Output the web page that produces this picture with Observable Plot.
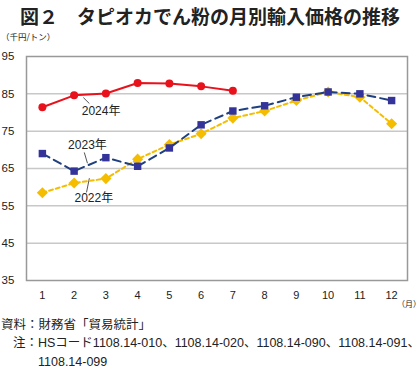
<!DOCTYPE html>
<html><head><meta charset="utf-8">
<script src="https://cdn.jsdelivr.net/npm/d3@7"></script>
<script src="https://cdn.jsdelivr.net/npm/@observablehq/plot@0.6"></script>
<style>
body{margin:0;background:#fff;width:420px;height:369px;overflow:hidden;font-family:"Noto Sans CJK JP",sans-serif;color:#222}
#wrap{position:relative;width:420px;height:369px}
.abs{position:absolute;white-space:nowrap}
#title{left:20px;top:4px;font-size:19px;font-weight:bold;line-height:24px}
#unit{left:1px;top:31px;font-size:8.5px;line-height:11px}
#month{left:397px;top:298px;font-size:8px;line-height:11px}
.foot{font-size:12.5px;line-height:16px;font-family:"Liberation Sans","Noto Sans CJK JP",sans-serif}
#chart{position:absolute;left:0;top:26px}
</style></head><body>
<div id="wrap">
<div class="abs" id="title">図２　タピオカでん粉の月別輸入価格の推移</div>
<div class="abs" id="unit">（千円/トン）</div>
<div id="chart"></div>
<div class="abs" id="month">（月）</div>
<div class="abs foot" style="left:1px;top:317px">資料：財務省「貿易統計」</div>
<div class="abs foot" style="left:13px;top:335px">注：HSコード1108.14-010、1108.14-020、1108.14-090、1108.14-091、</div>
<div class="abs foot" style="left:38px;top:354px">1108.14-099</div>
</div>
<script>
const months = [1,2,3,4,5,6,7,8,9,10,11,12];
const v2024 = [81.4,84.6,85.1,87.9,87.8,87.0,85.8];
const v2023 = [69.0,64.3,67.9,65.6,70.5,76.7,80.4,81.8,84.1,85.5,85.0,83.2];
const v2022 = [58.5,61.1,62.3,67.5,71.4,74.3,78.5,80.4,83.2,85.5,84.1,77.0];
const yTicks = [35,45,55,65,75,85,95];
const gridVals = [45,55,65,75,85];
const labelNames = ["2024年","2023年","2022年"];
const labelX = [2.85,2.42,2.62];
const labelY = [80.3,71.2,57.0];
const leadX1 = [2.29,2.32,2.48];
const leadY1 = [84.0,69.3,62.4];
const leadX2 = [2.48,2.42,2.39];
const leadY2 = [82.4,66.4,58.6];

const d24 = v2024.map((v,i)=>({m:months[i],v}));
const d23 = v2023.map((v,i)=>({m:months[i],v}));
const d22 = v2022.map((v,i)=>({m:months[i],v}));
const labels = labelNames.map((t,i)=>({t,x:labelX[i],y:labelY[i],x1:leadX1[i],y1:leadY1[i],x2:leadX2[i],y2:leadY2[i]}));

const red="#e8121c", navy="#1f3f7f", navyM="#33339a", gold="#f5bd00";

const chart = Plot.plot({
  width:420, height:290,
  marginTop:30, marginBottom:36, marginLeft:26, marginRight:13,
  style:{fontFamily:"Liberation Sans, Arial, sans-serif", fontSize:"11px", color:"#222", background:"transparent"},
  x:{domain:[0.5,12.5], ticks:months, tickFormat:d=>String(d)},
  y:{domain:[35,95], ticks:yTicks},
  marks:[
    Plot.ruleY(gridVals,{stroke:"#c8c8c8",strokeWidth:1.5}),
    Plot.frame({stroke:"#999",strokeWidth:1.5}),
    Plot.axisY({ticks:yTicks, tickSize:0, tickPadding:0, textAnchor:"start", dx:-25, fontSize:11.5, label:null}),
    Plot.axisX({ticks:months, tickSize:0, tickPadding:11, fontSize:11, label:null}),
    Plot.link(labels,{x1:"x1",y1:"y1",x2:"x2",y2:"y2",stroke:"#555",strokeWidth:1}),
    Plot.text(labels,{x:"x",y:"y",text:"t",fontSize:12,fill:"#222",fontFamily:"Liberation Sans, Noto Sans CJK JP, sans-serif"}),
    Plot.line(d22,{x:"m",y:"v",stroke:gold,strokeWidth:2,strokeDasharray:"4,3"}),
    Plot.dot(d22,{x:"m",y:"v",symbol:"diamond2",r:5,fill:gold,stroke:null}),
    Plot.line(d23,{x:"m",y:"v",stroke:navy,strokeWidth:2,strokeDasharray:"8,5"}),
    Plot.dot(d23,{x:"m",y:"v",symbol:"square",r:4.2,fill:navyM,stroke:null}),
    Plot.line(d24,{x:"m",y:"v",stroke:red,strokeWidth:2}),
    Plot.dot(d24,{x:"m",y:"v",symbol:"circle",r:4,fill:red,stroke:null})
  ]
});
document.getElementById("chart").append(chart);
</script>
</body></html>
